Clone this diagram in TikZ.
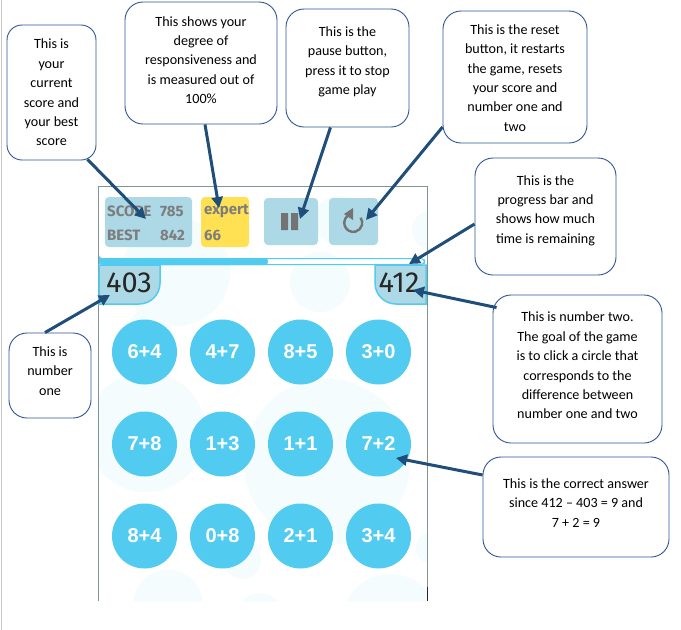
\documentclass[tikz,border=0pt]{standalone}
\usepackage{fontspec}
\setmainfont{Carlito}
\newfontfamily\handfont{Fira Sans}
\newfontfamily\btnfont{Liberation Sans}
\usetikzlibrary{arrows.meta,calc}
\definecolor{boxline}{HTML}{2F5597}
\definecolor{arrowblue}{HTML}{1F4E79}
\definecolor{circ}{HTML}{52CBF0}
\definecolor{panel}{HTML}{ADD8E6}
\definecolor{bubble}{HTML}{F5FCFE}
\definecolor{handgrey}{HTML}{7D7D7D}
\definecolor{frameline}{HTML}{7F9590}
\definecolor{expertyellow}{HTML}{FFE153}
\tikzset{
  x=1pt,y=-1pt,
  callout/.style={draw=boxline,line width=0.9pt,fill=white,rounded corners=18pt,inner sep=0pt},
  calltext/.style={align=center,font=\fontsize{14.1}{19.4}\selectfont,inner sep=0pt,text=black},
  pointer/.style={draw=arrowblue,line width=3pt,-{Triangle[length=11pt,width=11pt]}},
  answer/.style={circle,fill=circ,minimum size=65pt,inner sep=0pt,text=white,font=\btnfont\bfseries\fontsize{20}{20}\selectfont},
  panelbox/.style={fill=panel,rounded corners=4pt,inner sep=0pt},
  scoretext/.style={text=handgrey,font=\handfont\bfseries\fontsize{15}{15}\selectfont,inner sep=0pt,anchor=west},
  bignum/.style={text=black!85,font=\handfont\fontsize{29}{29}\selectfont,inner sep=0pt},
  bub/.style={fill=bubble,draw=none},
}
\begin{document}
\begin{tikzpicture}
\useasboundingbox (0,0) rectangle (681,630);
\fill[white] (0,0) rectangle (681,630);
\draw[line width=1pt,black!22] (1.5,0) -- (1.5,630);
% background bubbles
\begin{scope}
\clip (98,186) rectangle (427,601);
\fill[bub] (327,462) circle (83);
\fill[bub] (146,432) circle (60);
\fill[bub] (176,272) circle (54);
\fill[bub] (320,282) circle (30);
\fill[bub] (338,220) circle (24);
\fill[bub] (168,605) circle (35);
\fill[bub] (390,622) circle (48);
\fill[bub] (242,560) circle (19);
\fill[bub] (260,615) circle (22);
\fill[bub] (432,548) circle (16);
\fill[bub] (432,230) circle (20);
\fill[bub] (150,330) circle (22);
\end{scope}
% frame
\draw[frameline,line width=1pt] (98,601) -- (98,186) -- (427,186) -- (427,601);
\draw[black!85,line width=1pt] (427,587) -- (427,601);
% top panels
\node[panelbox,minimum width=87pt,minimum height=50pt] (score) at (148.5,222) {};
\node[panelbox,fill=expertyellow,minimum width=48pt,minimum height=50pt] (expert) at (225,222) {};
\node[panelbox,minimum width=54pt,minimum height=47pt] (pause) at (291,221.5) {};
\node[panelbox,minimum width=49pt,minimum height=47pt] (reset) at (353.5,221.5) {};
\node[scoretext] (s1) at (107,211) {SCORE};
\node[scoretext] (s2) at (160,211) {785};
\node[scoretext] (s3) at (107,235) {BEST};
\node[scoretext] (s4) at (160,235) {842};
\node[scoretext] (e1) at (204,211) {expert};
\node[scoretext] (e2) at (204,235) {66};
\fill[black!55] (281,213) rectangle (288,230) (291,213) rectangle (298,230);
\draw[black!55,line width=2.4pt] (350.9,214.2) arc[start angle=-105,end angle=-395,radius=9] ;
\fill[black!55] (344,214) -- (353,208) -- (353,220) -- cycle;
% progress bar
\draw[circ,line width=1pt,fill=white,rounded corners=3.5pt] (99.5,258.5) rectangle (424.5,264.5);
\fill[circ,rounded corners=3pt] (99,258) -| (268,265) -| cycle;
% number tabs
\draw[circ,line width=1.5pt,fill=panel] (99,265) -- (160,265) -- (160,283) arc[start angle=0,end angle=90,radius=21] -- (99,304) -- cycle;
\draw[circ,line width=1.5pt,fill=panel] (426,265) -- (375,265) -- (375,283) arc[start angle=180,end angle=90,radius=21] -- (426,304) -- cycle;
\node[bignum] (n1) at (129,283) {403};
\node[bignum] (n2) at (399,283) {412};
% answer circles
\foreach \nm/\cx/\cy/\lab in {
 a/144.5/352/6+4,b/222.5/352/4+7,c/300.5/352/8+5,d/378.5/352/3+0,
 e/144.5/444/7+8,f/222.5/444/1+3,g/300.5/444/1+1,h/378.5/444/7+2,
 i/144.5/536/8+4,j/222.5/536/0+8,k/300.5/536/2+1,l/378.5/536/3+4}
  {\node[answer] (ans\nm) at (\cx,\cy) {\lab};}
% callouts
\node[callout,rounded corners=15pt,minimum width=89pt,minimum height=135pt] (boxA) at (51.5,92.5) {};
\node[callout,minimum width=152pt,minimum height=122pt] (boxB) at (201,63) {};
\node[callout,minimum width=123pt,minimum height=118pt] (boxC) at (347.5,68) {};
\node[callout,minimum width=144pt,minimum height=132pt] (boxD) at (515,77) {};
\node[callout,minimum width=141pt,minimum height=117pt] (boxE) at (545.5,216.5) {};
\node[callout,minimum width=169pt,minimum height=148pt] (boxF) at (577.5,369) {};
\node[callout,minimum width=186pt,minimum height=100pt] (boxG) at (576,507) {};
\node[callout,minimum width=82pt,minimum height=85pt] (boxH) at (50,375.5) {};
\node[calltext] (tA) at (51.5,92.5) {This is\\your\\current\\score and\\your best\\score};
\node[calltext] (tB) at (201,60) {This shows your\\degree of\\responsiveness and\\is measured out of\\100\%};
\node[calltext] (tC) at (347.5,62) {This is the\\pause button,\\press it to stop\\game play};
\node[calltext] (tD) at (515,78) {This is the reset\\button, it restarts\\the game, resets\\your score and\\number one and\\two};
\node[calltext] (tE) at (545.5,210.5) {This is the\\progress bar and\\shows how much\\time is remaining};
\node[calltext] (tF) at (577.5,365.5) {This is number two.\\The goal of the game\\is to click a circle that\\corresponds to the\\difference between\\number one and two};
\node[calltext] (tG) at (576,503) {This is the correct answer\\since 412 -- 403 = 9 and\\7 + 2 = 9};
\node[calltext] (tH) at (50,371) {This is\\number\\one};
% arrow targets
\coordinate (tipA) at (146,219);
\coordinate (tipB) at (219,208);
\coordinate (tipC) at (300,219);
\coordinate (tipD) at (366,220);
\coordinate (tipE) at (409,264);
\coordinate (tipF) at (413,290);
\coordinate (tipH) at (110,295);
\coordinate (tipG) at (396,458);
% connectors
\draw[pointer] ([xshift=36pt,yshift=1pt]boxA.south) -- (tipA);
\draw[pointer] ([xshift=4pt]boxB.south) -- (tipB);
\draw[pointer] ([xshift=-17pt]boxC.south) -- (tipC);
\draw[pointer] ([yshift=-50pt]boxD.west) -- (tipD);
\draw[pointer] ([yshift=-7.5pt]boxE.west) -- (tipE);
\draw[pointer] ([xshift=4pt,yshift=-13pt]boxF.north west) -- (tipF);
\draw[pointer] ([xshift=-5pt]boxH.north) -- (tipH);
\draw[pointer] ([yshift=32pt]boxG.west) -- (tipG);
\end{tikzpicture}
\end{document}
